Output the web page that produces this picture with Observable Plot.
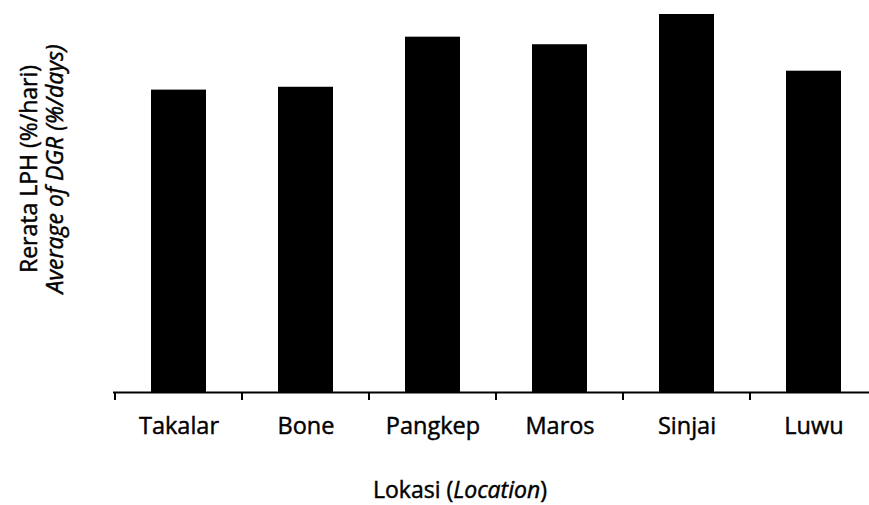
<!DOCTYPE html>
<html>
<head>
<meta charset="utf-8">
<script src="https://cdn.jsdelivr.net/npm/d3@7"></script>
<script src="https://cdn.jsdelivr.net/npm/@observablehq/plot@0.6"></script>
<style>
  html, body { margin: 0; padding: 0; background: #fff; overflow: hidden; }
  svg text { stroke: black; stroke-width: 0.45px; }
</style>
</head>
<body>
<div id="chart"></div>
<script>
const locations = ["Takalar", "Bone", "Pangkep", "Maros", "Sinjai", "Luwu"];
const dgr = [3.20, 3.23, 3.76, 3.68, 4.00, 3.40];
const yTitle1 = "Rerata LPH (%/hari)";
const yTitle2 = "Average of DGR (%/days)";
const xTitleMain = "Lokasi";
const xTitleItalic = "Location";

const FONT = "'Open Sans', Lato, sans-serif";
const data = locations.map((loc, i) => ({location: loc, value: dgr[i]}));

const boundaryTicks = (index, scales) => {
  const x = scales.x, y = scales.y;
  const step = x.step(), bw = x.bandwidth();
  const gap = (step - bw) / 2;
  const xs = locations.map(c => x(c) - gap);
  xs.push(x(locations[locations.length - 1]) + bw + gap);
  const y0 = y(0);
  const g = d3.create("svg:g");
  g.selectAll("line").data(xs).join("line")
    .attr("x1", d => d).attr("x2", d => d)
    .attr("y1", y0).attr("y2", y0 + 8)
    .attr("stroke", "black").attr("stroke-width", 2);
  return g.node();
};

const titles = () => {
  const g = d3.create("svg:g")
    .attr("font-family", FONT)
    .attr("font-size", 23)
    .attr("fill", "black");
  const cy = 169;
  g.append("text").attr("transform", `translate(37,${cy}) rotate(-90)`)
    .attr("text-anchor", "middle").text(yTitle1);
  g.append("text").attr("transform", `translate(63,${cy}) rotate(-90)`)
    .attr("text-anchor", "middle").attr("font-style", "italic").text(yTitle2);
  const t = g.append("text").attr("x", 460).attr("y", 498).attr("text-anchor", "middle");
  t.append("tspan").text(xTitleMain + " (");
  t.append("tspan").attr("font-style", "italic").text(xTitleItalic);
  t.append("tspan").text(")");
  return g.node();
};

const chart = Plot.plot({
  width: 869,
  height: 505,
  marginTop: 14,
  marginBottom: 113,
  marginLeft: 113,
  marginRight: 0,
  style: {fontFamily: FONT, fontSize: "23.5px", background: "white", color: "black", overflow: "hidden"},
  x: {domain: locations, range: [113, 878], paddingInner: 0.57, paddingOuter: 0.285, tickSize: 0, tickPadding: 25, label: null},
  y: {domain: [0, 4], axis: null},
  marks: [
    Plot.barY(data, {x: "location", y: "value", fill: "black"}),
    Plot.ruleY([0], {stroke: "black", strokeWidth: 2}),
    boundaryTicks,
    titles
  ]
});
document.getElementById("chart").appendChild(chart);
</script>
</body>
</html>
